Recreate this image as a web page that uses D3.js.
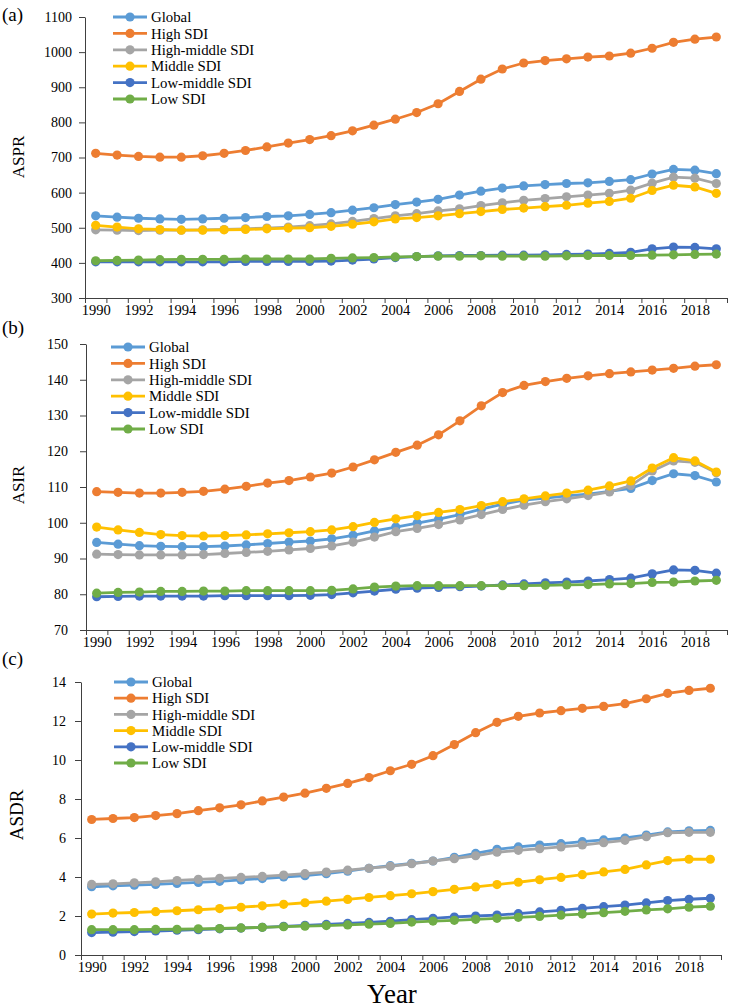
<!DOCTYPE html>
<html>
<head>
<meta charset="utf-8">
<script src="https://cdn.jsdelivr.net/npm/d3@7"></script>
<style>
  body { margin: 0; background: #fff; }
  svg text { font-family: "Liberation Serif", "DejaVu Serif", serif; fill: #000; }
</style>
</head>
<body>
<div id="chart"></div>
<script>
// years on the x axis
var years = d3.range(1990, 2020);
var yearLabels = d3.range(1990, 2019, 2);

var seriesNames = ["Global", "High SDI", "High-middle SDI", "Middle SDI", "Low-middle SDI", "Low SDI"];
var seriesColors = ["#5B9BD5", "#ED7D31", "#A5A5A5", "#FFC000", "#4472C4", "#70AD47"];

// (a) ASPR
var globalA  = [534,530,527,525,524,525,527,529,532,534,538,543,550,557,566,573,581,593,604,613,619,623,626,628,632,637,653,666,664,654];
var highA    = [712,707,703,701,701,705,712,720,730,741,751,762,776,792,809,828,853,888,923,952,969,976,981,986,989,997,1011,1028,1037,1043];
var highMidA = [494,493,492,493,493,494,495,497,499,502,506,511,518,526,534,540,548,554,563,571,578,583,588,593,598,607,627,644,641,626];
var midA     = [507,502,497,495,493,493,494,495,497,499,500,504,510,517,525,529,534,540,546,552,556,560,564,570,575,584,606,621,616,598];
var lowMidA  = [403,403,403,403,403,403,403,404,404,404,404,405,408,411,415,418,420,421,421,422,422,423,424,425,427,430,440,445,444,440];
var lowA     = [406,407,408,409,410,410,410,411,411,411,411,413,414,415,417,418,419,419,420,419,419,419,420,421,421,421,422,423,424,425];

// (b) ASIR
var globalB  = [94.5,94.0,93.6,93.4,93.3,93.3,93.5,93.8,94.2,94.6,94.9,95.5,96.5,97.7,98.8,99.9,101.0,102.3,103.8,105.2,106.3,106.9,107.5,108.0,108.8,109.6,111.8,113.7,113.2,111.4];
var highB    = [108.7,108.5,108.3,108.3,108.5,108.8,109.4,110.2,111.1,111.8,112.8,113.9,115.6,117.6,119.7,121.7,124.6,128.5,132.7,136.4,138.4,139.5,140.4,141.1,141.7,142.2,142.7,143.2,143.8,144.2];
var highMidB = [91.2,91.1,91.0,91.0,91.0,91.1,91.4,91.7,92.0,92.4,92.8,93.5,94.6,96.0,97.5,98.4,99.5,100.8,102.3,103.7,104.9,105.9,106.7,107.6,108.6,110.4,114.5,117.3,116.9,114.0];
var midB     = [98.8,98.0,97.3,96.7,96.4,96.3,96.4,96.6,96.9,97.2,97.5,98.0,98.9,100.1,101.1,102.0,102.9,103.7,104.8,105.9,106.7,107.5,108.3,109.1,110.3,111.7,115.3,118.2,117.3,114.2];
var lowMidB  = [79.3,79.4,79.5,79.5,79.5,79.5,79.6,79.6,79.6,79.6,79.7,79.9,80.4,80.9,81.4,81.7,81.9,82.1,82.3,82.6,82.9,83.2,83.4,83.7,84.1,84.5,85.7,86.8,86.7,85.9];
var lowB     = [80.3,80.5,80.6,80.8,80.8,80.9,80.9,81.0,81.0,81.0,81.0,81.1,81.5,82.0,82.3,82.4,82.4,82.4,82.4,82.4,82.4,82.5,82.6,82.7,82.9,83.0,83.3,83.4,83.7,83.9];

// (c) ASDR
var globalC  = [3.50,3.55,3.58,3.62,3.67,3.72,3.78,3.85,3.92,4.00,4.07,4.17,4.30,4.45,4.58,4.70,4.82,5.01,5.21,5.42,5.54,5.64,5.71,5.81,5.90,6.00,6.15,6.31,6.37,6.39];
var highC    = [6.95,7.00,7.05,7.15,7.25,7.40,7.55,7.70,7.90,8.10,8.30,8.55,8.80,9.10,9.45,9.78,10.22,10.79,11.40,11.93,12.24,12.41,12.53,12.65,12.75,12.89,13.14,13.42,13.57,13.68];
var highMidC = [3.62,3.65,3.70,3.75,3.82,3.88,3.93,3.98,4.03,4.10,4.17,4.25,4.35,4.45,4.55,4.68,4.82,4.94,5.09,5.27,5.37,5.45,5.54,5.64,5.76,5.88,6.07,6.27,6.29,6.29];
var midC     = [2.10,2.15,2.18,2.22,2.27,2.32,2.38,2.45,2.52,2.60,2.68,2.76,2.85,2.95,3.04,3.14,3.25,3.37,3.49,3.61,3.73,3.86,3.98,4.12,4.26,4.39,4.62,4.84,4.91,4.91];
var lowMidC  = [1.15,1.17,1.20,1.23,1.27,1.30,1.34,1.38,1.42,1.47,1.52,1.57,1.62,1.67,1.73,1.81,1.88,1.95,2.00,2.05,2.12,2.21,2.29,2.39,2.48,2.56,2.67,2.79,2.86,2.91];
var lowC     = [1.30,1.30,1.30,1.31,1.32,1.34,1.36,1.39,1.42,1.45,1.48,1.51,1.54,1.58,1.62,1.69,1.74,1.78,1.83,1.88,1.93,1.98,2.04,2.10,2.17,2.24,2.31,2.37,2.45,2.50];

var yTicksA = [300,400,500,600,700,800,900,1000,1100];
var yTicksB = [70,80,90,100,110,120,130,140,150];
var yTicksC = [0,2,4,6,8,10,12,14];

var serif = '"Liberation Serif", "DejaVu Serif", serif';

var svg = d3.select("#chart").append("svg")
  .attr("width", 734)
  .attr("height", 1008);

// one panel = one chart with its own axes and legend
function drawPanel(p) {
  var g = svg.append("g");

  var x = d3.scaleLinear()
    .domain([1989.5, 2019.5])
    .range([p.left, p.right]);
  var y = d3.scaleLinear()
    .domain(d3.extent(p.yTicks))
    .range([p.bottom, p.top]);

  // y axis
  g.append("g")
    .attr("transform", "translate(" + p.left + ",0)")
    .call(d3.axisLeft(y).tickValues(p.yTicks).tickSize(6).tickPadding(p.yPad).tickSizeOuter(0).tickFormat(d3.format("d")))
    .call(function(a) {
      a.attr("font-family", serif);
      a.selectAll("text").style("font-family", serif).style("font-size", "14px");
      a.selectAll("line, path").attr("stroke", "#404040");
    });

  // x axis: tick marks between categories, labels every 2 years
  g.append("g")
    .attr("transform", "translate(0," + p.bottom + ")")
    .call(d3.axisBottom(x).tickValues(d3.range(1989.5, 2020, 1)).tickSize(5).tickFormat("").tickSizeOuter(0))
    .call(function(a) { a.selectAll("line, path").attr("stroke", "#404040"); });
  g.append("g")
    .attr("transform", "translate(0," + p.bottom + ")")
    .call(d3.axisBottom(x).tickValues(yearLabels).tickSize(0).tickPadding(7).tickFormat(d3.format("d")))
    .call(function(a) {
      a.attr("font-family", serif);
      a.select(".domain").remove();
      a.selectAll("text").style("font-family", serif).style("font-size", "14.5px");
    });

  var line = d3.line()
    .x(function(d) { return x(d.year); })
    .y(function(d) { return y(d.value); });

  p.series.forEach(function(values, i) {
    var pts = years.map(function(yr, j) { return {year: yr, value: values[j]}; });
    g.append("path")
      .datum(pts)
      .attr("fill", "none")
      .attr("stroke", seriesColors[i])
      .attr("stroke-width", 2.8)
      .attr("d", line);
    g.selectAll(null)
      .data(pts)
      .enter()
      .append("circle")
        .attr("cx", function(d) { return x(d.year); })
        .attr("cy", function(d) { return y(d.value); })
        .attr("r", 4.6)
        .attr("fill", seriesColors[i]);
  });

  // legend
  var legend = g.append("g");
  seriesNames.forEach(function(name, i) {
    var ly = p.legendTop + i * p.legendStep;
    legend.append("line")
      .attr("x1", p.legendX).attr("x2", p.legendX + 34)
      .attr("y1", ly).attr("y2", ly)
      .attr("stroke", seriesColors[i]).attr("stroke-width", 2.8);
    legend.append("circle")
      .attr("cx", p.legendX + 17).attr("cy", ly).attr("r", 4.6)
      .attr("fill", seriesColors[i]);
    legend.append("text")
      .attr("x", p.legendX + 38).attr("y", ly)
      .attr("dy", "0.35em")
      .style("font-size", "14.8px")
      .text(name);
  });

  // panel letter and y title
  svg.append("text")
    .attr("x", 2).attr("y", p.letterY)
    .style("font-size", "19px")
    .text(p.letter);
  svg.append("text")
    .attr("transform", "translate(" + p.titleX + "," + p.titleY + ") rotate(-90)")
    .attr("text-anchor", "middle")
    .style("font-size", p.titleSize)
    .text(p.title);
}

drawPanel({
  letter: "(a)", letterY: 21, title: "ASPR", titleX: 24, titleY: 157, titleSize: "17px",
  left: 85, right: 727, top: 17, bottom: 298, yPad: 7, yTicks: yTicksA,
  legendX: 113, legendTop: 17, legendStep: 16.4,
  series: [globalA, highA, highMidA, midA, lowMidA, lowA]
});
drawPanel({
  letter: "(b)", letterY: 334, title: "ASIR", titleX: 24, titleY: 485, titleSize: "17px",
  left: 86, right: 727, top: 344, bottom: 630, yPad: 12, yTicks: yTicksB,
  legendX: 111, legendTop: 347, legendStep: 16.4,
  series: [globalB, highB, highMidB, midB, lowMidB, lowB]
});
drawPanel({
  letter: "(c)", letterY: 665, title: "ASDR", titleX: 23, titleY: 815, titleSize: "19px",
  left: 81, right: 721, top: 682, bottom: 955, yPad: 9, yTicks: yTicksC,
  legendX: 114, legendTop: 682, legendStep: 16.2,
  series: [globalC, highC, highMidC, midC, lowMidC, lowC]
});

svg.append("text")
  .attr("x", 392).attr("y", 1003)
  .attr("text-anchor", "middle")
  .style("font-size", "27px")
  .text("Year");
</script>
</body>
</html>
